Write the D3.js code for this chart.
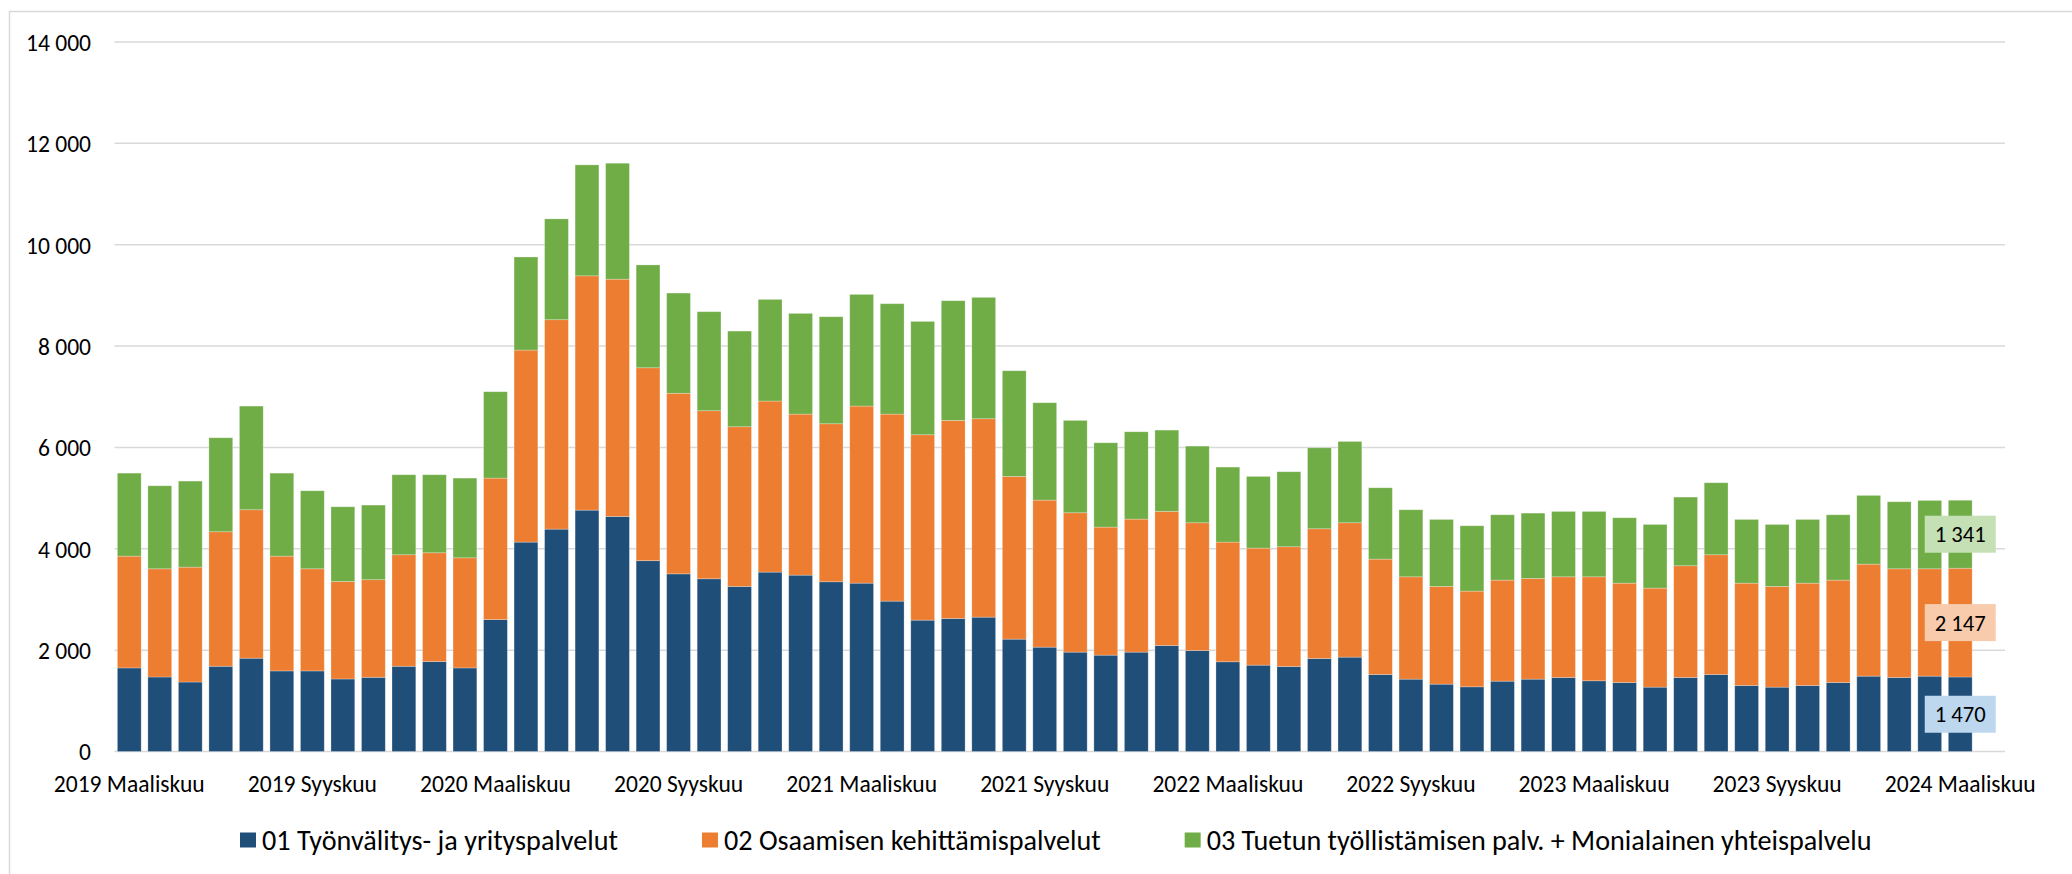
<!DOCTYPE html>
<html>
<head>
<meta charset="utf-8">
<script src="https://cdn.jsdelivr.net/npm/d3@7"></script>
<style>
  body { margin: 0; background: #fff; }
  text { font-family: Carlito, Calibri, Lato, sans-serif; fill: #000; }
</style>
</head>
<body>
<script>
// months shown on the x axis, 2019 Maaliskuu .. 2024 Maaliskuu
var monthNames = ["Tammikuu", "Helmikuu", "Maaliskuu", "Huhtikuu", "Toukokuu", "Kesäkuu",
                  "Heinäkuu", "Elokuu", "Syyskuu", "Lokakuu", "Marraskuu", "Joulukuu"];
var categories = [];
for (var i = 0; i < 61; i++) {
  var m = 2 + i;
  categories.push((2019 + Math.floor(m / 12)) + " " + monthNames[m % 12]);
}

var seriesNames = ["01 Työnvälitys- ja yrityspalvelut",
                   "02 Osaamisen kehittämispalvelut",
                   "03 Tuetun työllistämisen palv. + Monialainen yhteispalvelu"];

var blue = [1649,1470,1371,1682,1841,1590,1590,1431,1464,1682,
            1775,1649,2603,4132,4388,4763,4638,3765,3505,3408,
            3257,3540,3480,3349,3322,2967,2592,2625,2651,2217,
            2059,1961,1901,1961,2092,1993,1770,1704,1678,1836,
            1862,1520,1428,1329,1276,1388,1428,1461,1395,1362,
            1270,1461,1520,1303,1270,1303,1362,1487,1461,1487,1470];
var orange = [2206,2135,2267,2654,2929,2265,2015,1924,1926,2200,
              2146,2173,2792,3789,4132,4623,4682,3807,3564,3316,
              3151,3375,3178,3118,3494,3691,3658,3908,3915,3211,
              2902,2750,2527,2625,2645,2520,2362,2309,2362,2559,
              2651,2276,2019,1928,1889,1994,1987,1986,2052,1960,
              1954,2204,2362,2019,1987,2019,2020,2210,2144,2118,2147];
var green = [1638,1638,1698,1855,2046,1638,1540,1474,1472,1579,
             1540,1573,1704,1837,1990,2189,2288,2029,1977,1954,
             1888,2006,1987,2112,2204,2178,2237,2362,2395,2085,
             1921,1822,1664,1723,1605,1513,1480,1415,1480,1598,
             1605,1408,1323,1322,1289,1289,1289,1290,1290,1290,
             1256,1355,1421,1257,1223,1257,1289,1356,1323,1349,1341];

var yTicks = [0, 2000, 4000, 6000, 8000, 10000, 12000, 14000];

var colors = ["#1f4e79", "#ed7d31", "#70ad47"];
var labelFill = ["#bdd7ee", "#f8cbad", "#c5e0b4"];

var width = 2072, height = 874;
var fmt = d3.formatLocale({decimal: ",", thousands: " ", grouping: [3], currency: ["", ""]}).format(",d");

var svg = d3.select("body").append("svg")
    .attr("width", width)
    .attr("height", height);

// pick a font size so a sample string is as wide as in the original (Calibri isn't here)
function fitSize(sample, target) {
  var t = svg.append("text").style("font-size", "100px").text(sample);
  var w = t.node().getComputedTextLength();
  t.remove();
  return (100 * target / w).toFixed(2) + "px";
}
var tickSize = fitSize("14 000", 65);
var catSize = fitSize("2019 Maaliskuu", 151);
var labelSize = fitSize("1 470", 51);
var legendSize = fitSize(seriesNames[0], 356);

// chart area border
svg.append("rect")
    .attr("x", 9.5).attr("y", 11.5)
    .attr("width", 2200).attr("height", 1000)
    .attr("fill", "none")
    .attr("stroke", "#d9d9d9")
    .attr("stroke-width", 1.5);

var x = d3.scaleBand()
    .domain(categories)
    .range([114, 1975.5])
    .paddingInner(0.22)
    .paddingOuter(0.11);

var y = d3.scaleLinear()
    .domain([0, 14000])
    .range([751.5, 42]);

// gridlines
svg.append("g")
    .selectAll("line")
    .data(yTicks)
    .enter()
    .append("line")
    .attr("x1", 114.5).attr("x2", 2005)
    .attr("y1", function(d) { return y(d); })
    .attr("y2", function(d) { return y(d); })
    .attr("stroke", "#d9d9d9")
    .attr("stroke-width", 1.5);

// y axis labels
var yAxis = svg.append("g")
    .attr("transform", "translate(114,0)")
    .call(d3.axisLeft(y).tickValues(yTicks).tickFormat(fmt).tickSize(0).tickPadding(23));
yAxis.select(".domain").remove();
yAxis.selectAll("text").style("font-size", tickSize).attr("fill", "#000").attr("dy", "0.36em");

// stacked bars
var rows = categories.map(function(c, i) {
  return {cat: c, s0: blue[i], s1: orange[i], s2: green[i]};
});
var stacked = d3.stack().keys(["s0", "s1", "s2"])(rows);

svg.append("g")
    .selectAll("g")
    .data(stacked)
    .enter()
    .append("g")
    .attr("fill", function(d, i) { return colors[i]; })
    .selectAll("rect")
    .data(function(d) { return d; })
    .enter()
    .append("rect")
    .attr("x", function(d) { return x(d.data.cat); })
    .attr("width", x.bandwidth())
    .attr("y", function(d) { return y(d[1]); })
    .attr("height", function(d) { return y(d[0]) - y(d[1]); })
    .attr("stroke", "#ffffff")
    .attr("stroke-opacity", 0.35)
    .attr("stroke-width", 0.75);

// x axis labels, every sixth month
var xAxis = svg.append("g")
    .attr("transform", "translate(0,751.5)")
    .call(d3.axisBottom(x)
      .tickValues(categories.filter(function(d, i) { return i % 6 === 0; }))
      .tickSize(0));
xAxis.select(".domain").remove();
xAxis.selectAll("text")
    .style("font-size", catSize)
    .attr("fill", "#000")
    .attr("y", 32.5)
    .attr("dy", "0.36em");

// data labels on the last bar
var last = stacked.map(function(s) { return s[s.length - 1]; });
var lab = svg.append("g")
    .selectAll("g")
    .data(last)
    .enter()
    .append("g")
    .attr("transform", function(d) {
      return "translate(" + (x(d.data.cat) + x.bandwidth() / 2) + "," + y((d[0] + d[1]) / 2) + ")";
    });
lab.append("rect")
    .attr("x", -35.5).attr("y", -18.5)
    .attr("width", 71).attr("height", 37)
    .attr("fill", function(d, i) { return labelFill[i]; });
lab.append("text")
    .attr("text-anchor", "middle")
    .attr("dy", "0.36em")
    .style("font-size", labelSize)
    .text(function(d) { return fmt(d[1] - d[0]); });

// legend
var legend = svg.append("g").attr("transform", "translate(0,840)");
var items = legend.selectAll("g")
    .data(seriesNames)
    .enter()
    .append("g");
items.append("rect")
    .attr("y", -7.5)
    .attr("width", 16).attr("height", 15)
    .attr("fill", function(d, i) { return colors[i]; });
items.append("text")
    .attr("x", 22)
    .attr("dy", "0.36em")
    .style("font-size", legendSize)
    .text(function(d) { return d; });

var widths = [];
items.each(function() { widths.push(this.getBBox().width); });
var gap = 84;
var pos = 240;
items.attr("transform", function(d, i) {
  var p = pos;
  pos += widths[i] + gap;
  return "translate(" + p + ",0)";
});
</script>
</body>
</html>
